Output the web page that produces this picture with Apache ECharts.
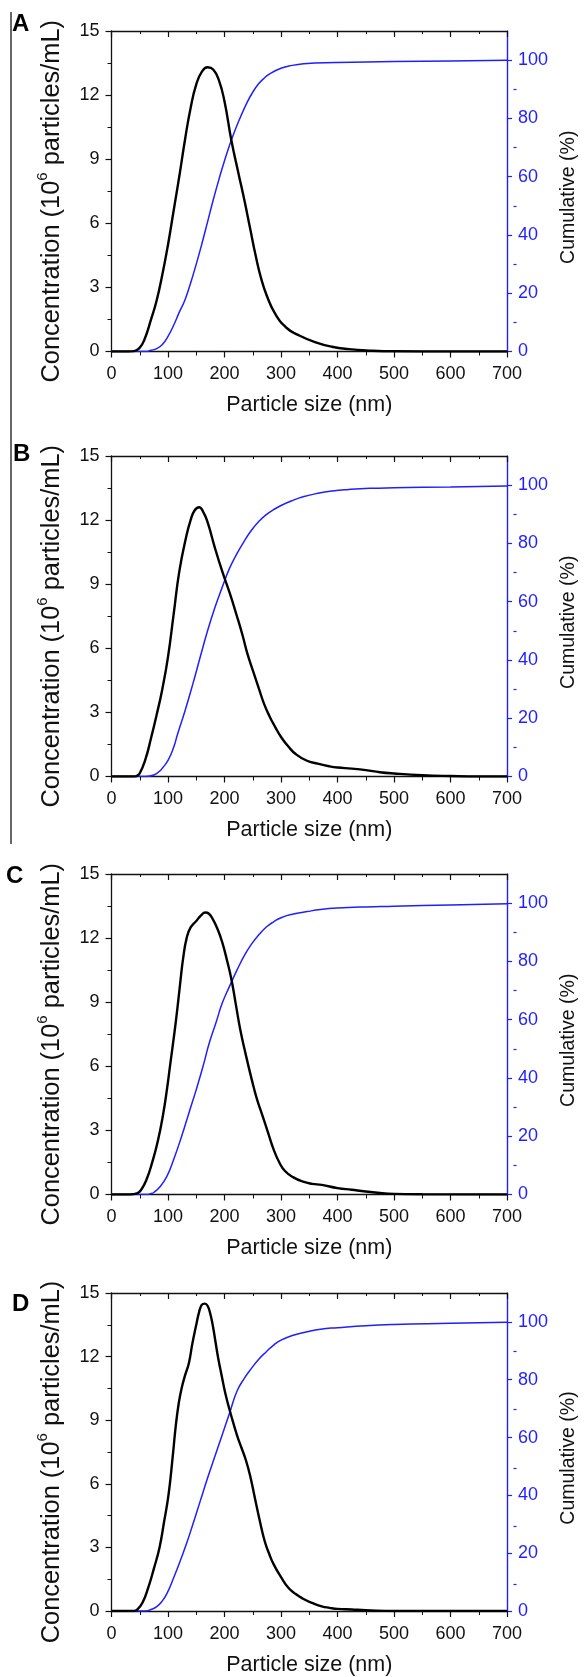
<!DOCTYPE html>
<html>
<head>
<meta charset="utf-8">
<script src="https://cdn.jsdelivr.net/npm/echarts@6/dist/echarts.min.js"></script>
<style>
html,body{margin:0;padding:0;background:#fff;}
#c{width:587px;height:1677px;}
</style>
</head>
<body>
<div id="c"></div>
<script>
// ---- Data (particle size in nm) ----
const panelLetters = ['A', 'B', 'C', 'D'];
const xTicks = [0, 100, 200, 300, 400, 500, 600, 700];
const leftTicks = [0, 3, 6, 9, 12, 15];
const rightTicks = [0, 20, 40, 60, 80, 100];
const rightMinorTicks = [10, 30, 50, 70, 90];

// Panel A
const sizeA = [0, 30, 40, 50, 58, 70, 80, 90, 100, 110, 120, 130, 140, 150, 160, 170, 180, 190, 200, 212, 225, 235, 245, 255, 265, 275, 290, 310, 330, 360, 390, 420, 460, 500, 600, 700];
const concA = [0, 0, 0.02, 0.18, 0.54, 1.5, 2.4, 3.6, 5.0, 6.6, 8.2, 9.9, 11.4, 12.5, 13.1, 13.3, 13.2, 12.7, 11.7, 9.9, 8.3, 7.1, 5.8, 4.5, 3.4, 2.6, 1.75, 1.1, 0.78, 0.44, 0.22, 0.11, 0.04, 0.01, 0, 0];
const cumSizeA = [0, 60, 70, 80, 90, 100, 110, 120, 130, 140, 150, 160, 170, 180, 190, 200, 212, 225, 240, 250, 260, 270, 280, 300, 320, 340, 360, 400, 500, 600, 700];
const cumA = [0, 0, 0.4, 1.0, 2.4, 5.2, 9, 13.5, 17.7, 23.5, 30, 37, 44.5, 52, 59, 65.5, 72.5, 79, 85.5, 89, 91.8, 93.8, 95.3, 97.2, 98.2, 98.8, 99.0, 99.2, 99.5, 99.7, 100];

// Panel B
const sizeB = [0, 40, 45, 50, 60, 70, 80, 90, 100, 110, 120, 132, 140, 147, 155, 162, 170, 183, 196, 209, 222, 232, 241, 251, 261, 270, 280, 290, 300, 313, 326, 345, 365, 385, 400, 425, 450, 475, 500, 550, 600, 650, 700];
const concB = [0, 0, 0.03, 0.15, 0.8, 1.8, 2.9, 4.1, 5.6, 7.6, 9.6, 11.2, 12.0, 12.45, 12.6, 12.4, 11.9, 10.7, 9.6, 8.6, 7.5, 6.6, 5.7, 4.9, 4.1, 3.4, 2.8, 2.3, 1.85, 1.4, 1.05, 0.75, 0.6, 0.48, 0.42, 0.37, 0.3, 0.2, 0.14, 0.06, 0.02, 0, 0];
const cumSizeB = [0, 60, 75, 85, 91, 100, 110, 117, 130, 144, 157, 170, 183, 196, 209, 222, 235, 248, 261, 274, 287, 300, 320, 339, 365, 391, 420, 457, 500, 600, 700];
const cumB = [0, 0, 0.5, 1.8, 3.1, 5.5, 10, 14.6, 22.5, 31.8, 41, 50, 58, 65, 71.5, 76.5, 80.8, 84.6, 87.6, 89.9, 91.6, 93, 94.7, 96, 97.2, 98, 98.5, 98.9, 99.1, 99.4, 99.7];

// Panel C
const sizeC = [0, 33, 45, 52, 62, 72, 82, 91, 98, 104, 111, 117, 122, 127, 133, 140, 150, 158, 166, 172, 179, 188, 196, 204, 212, 220, 228, 238, 248, 257, 267, 277, 287, 297, 307, 322, 339, 355, 372, 400, 425, 450, 475, 500, 550, 700];
const concC = [0, 0, 0.05, 0.2, 0.7, 1.5, 2.5, 3.7, 4.9, 6.1, 7.5, 8.8, 10.0, 11.1, 12.0, 12.5, 12.8, 13.05, 13.2, 13.15, 12.9, 12.4, 11.8, 11.0, 10.1, 8.9, 7.7, 6.5, 5.4, 4.5, 3.7, 2.9, 2.1, 1.5, 1.1, 0.8, 0.6, 0.5, 0.45, 0.3, 0.22, 0.14, 0.07, 0.03, 0.01, 0];
const cumSizeC = [0, 60, 72, 75, 85, 98, 110, 124, 137, 150, 162, 173, 185, 196, 209, 222, 235, 248, 261, 274, 287, 300, 320, 346, 370, 400, 450, 500, 600, 700];
const cumC = [0, 0, 0.4, 0.7, 2.5, 6.2, 12, 19.9, 28, 36, 44, 52, 59, 65.7, 71.5, 77, 82, 86, 89.2, 91.8, 93.6, 95, 96.2, 97.1, 97.8, 98.3, 98.7, 98.9, 99.4, 99.8];

// Panel D
const sizeD = [0, 40, 45, 55, 65, 75, 85, 93, 101, 108, 114, 119, 124, 130, 137, 143, 150, 155, 160, 165, 170, 175, 179, 184, 189, 195, 202, 212, 222, 230, 238, 246, 254, 262, 271, 279, 287, 300, 313, 326, 339, 355, 372, 386, 400, 425, 450, 500, 700];
const concD = [0, 0, 0.05, 0.4, 1.1, 2.0, 3.0, 4.2, 5.5, 7.2, 8.8, 9.8, 10.5, 11.1, 11.7, 12.6, 13.5, 14.1, 14.45, 14.5, 14.4, 14.0, 13.5, 12.7, 11.9, 11.1, 10.2, 9.2, 8.3, 7.7, 7.1, 6.3, 5.3, 4.3, 3.3, 2.7, 2.2, 1.6, 1.1, 0.8, 0.58, 0.38, 0.22, 0.15, 0.1, 0.07, 0.04, 0, 0];
const cumSizeD = [0, 60, 70, 80, 90, 98, 110, 124, 134, 144, 157, 170, 183, 196, 209, 222, 235, 248, 261, 274, 287, 300, 320, 346, 370, 400, 450, 500, 600, 700];
const cumD = [0, 0, 0.5, 1.5, 3.5, 6, 11.5, 18.6, 24, 30, 38, 46, 53.5, 61, 68.5, 76, 80.5, 84, 87.2, 89.7, 92, 93.7, 95.3, 96.6, 97.5, 98, 98.7, 99.1, 99.5, 99.9];

const panels = [
  {size: sizeA, conc: concA, cumSize: cumSizeA, cum: cumA},
  {size: sizeB, conc: concB, cumSize: cumSizeB, cum: cumB},
  {size: sizeC, conc: concC, cumSize: cumSizeC, cum: cumC},
  {size: sizeD, conc: concD, cumSize: cumSizeD, cum: cumD}
];

// ---- Layout / style ----
const FONT = '"Liberation Sans", Arial, Helvetica, sans-serif';
const BLUE = '#1f1fff';
const INK = '#111';
const gridTops = [31, 456, 874, 1293];
const gridH = 320.5;
const letterPos = [[23, 25], [24, 455], [17, 877], [23, 1305]];

const grid = [], xAxis = [], yAxis = [], series = [], graphic = [];
const N = panels.length;

panels.forEach((p, i) => {
  grid.push({left: 111.5, width: 402, top: gridTops[i], height: gridH});
  // bottom x axis  (xAxis index 2i)
  xAxis.push({
    type: 'value', gridIndex: i, position: 'bottom', min: 0, max: 700, interval: 100,
    axisLine: {show: true, onZero: false, lineStyle: {color: INK, width: 1.3}},
    axisTick: {show: true, inside: false, length: 6, lineStyle: {color: INK, width: 1.2}},
    minorTick: {show: true, splitNumber: 2, length: 4, lineStyle: {color: INK, width: 1}},
    splitLine: {show: false},
    axisLabel: {show: true, customValues: xTicks, margin: 14, fontSize: 18, color: INK, fontFamily: FONT},
    name: 'Particle size (nm)', nameLocation: 'middle', nameGap: 43,
    nameTextStyle: {fontSize: 21.5, color: INK, fontFamily: FONT}
  });
  // top x axis (frame with inward ticks) (index 2i+1)
  xAxis.push({
    type: 'value', gridIndex: i, position: 'top', min: 0, max: 700, interval: 100,
    axisLine: {show: true, onZero: false, lineStyle: {color: INK, width: 1.3}},
    axisTick: {show: true, inside: true, length: 6, lineStyle: {color: INK, width: 1.2}},
    minorTick: {show: true, splitNumber: 2, length: 3, lineStyle: {color: INK, width: 1}},
    splitLine: {show: false}, axisLabel: {show: false}
  });
  // left y axis (index 2i)
  yAxis.push({
    type: 'value', gridIndex: i, position: 'left', min: 0, max: 15, interval: 3,
    axisLine: {show: true, onZero: false, lineStyle: {color: INK, width: 1.3}},
    axisTick: {show: true, inside: false, length: 6, lineStyle: {color: INK, width: 1.2}},
    minorTick: {show: true, splitNumber: 2, length: 4, lineStyle: {color: INK, width: 1}},
    splitLine: {show: false},
    axisLabel: {show: true, customValues: leftTicks, margin: 12, fontSize: 18, color: INK, fontFamily: FONT},
    name: '{a|Concentration (10}{s|6}{a| particles/mL)}',
    nameLocation: 'middle', nameRotate: 90, nameGap: 47,
    nameTextStyle: {
      color: INK, fontFamily: FONT, padding: [0, 20, 0, 0],
      rich: {
        a: {fontSize: 25.4, color: INK, fontFamily: FONT, lineHeight: 29, verticalAlign: 'bottom'},
        s: {fontSize: 15, color: INK, fontFamily: FONT, lineHeight: 29, verticalAlign: 'top'}
      }
    }
  });
  // right y axis (cumulative %) (index 2i+1)
  yAxis.push({
    type: 'value', gridIndex: i, position: 'right', min: 0, max: 110, interval: 20,
    axisLine: {show: true, onZero: false, lineStyle: {color: BLUE, width: 1.4}},
    axisTick: {show: true, inside: false, length: 5, customValues: rightTicks, lineStyle: {color: BLUE, width: 1.2}},
    splitLine: {show: false},
    axisLabel: {show: true, customValues: rightTicks, margin: 11, fontSize: 18, color: BLUE, fontFamily: FONT},
    name: 'Cumulative (%)', nameLocation: 'middle', nameRotate: 90, nameGap: 48,
    nameTextStyle: {fontSize: 19.5, color: INK, fontFamily: FONT, padding: [0, 12, 0, 0]}
  });

  series.push({
    type: 'line', xAxisIndex: 2 * i, yAxisIndex: 2 * i,
    data: p.size.map((s, k) => [s, p.conc[k]]),
    smooth: 0.5, showSymbol: false, symbol: 'none',
    lineStyle: {color: '#000', width: 2.4}, z: 3, animation: false
  });
  series.push({
    type: 'line', xAxisIndex: 2 * i, yAxisIndex: 2 * i + 1,
    data: p.cumSize.map((s, k) => [s, p.cum[k]]),
    smooth: 0.5, showSymbol: false, symbol: 'none',
    lineStyle: {color: BLUE, width: 1.5}, z: 2, animation: false
  });

  graphic.push({
    type: 'text', left: letterPos[i][0] - 11, top: letterPos[i][1] - 13,
    style: {text: panelLetters[i], fontSize: 24, fontWeight: 'bold', fill: '#000', fontFamily: FONT}
  });
});

// overlay grids carrying only the short (minor) ticks of the right axis
panels.forEach((p, i) => {
  const g = N + i;
  grid.push({left: 111.5, width: 402, top: gridTops[i], height: gridH});
  xAxis.push({type: 'value', gridIndex: g, min: 0, max: 700, show: false});
  yAxis.push({
    type: 'value', gridIndex: g, position: 'right', min: 0, max: 110, interval: 10,
    axisLine: {show: false, onZero: false},
    axisTick: {show: true, inside: false, length: 3, customValues: rightMinorTicks, lineStyle: {color: BLUE, width: 1.2}},
    splitLine: {show: false}, axisLabel: {show: false}
  });
});

graphic.push({
  type: 'line', shape: {x1: 11, y1: 12, x2: 11, y2: 844},
  style: {stroke: '#000', lineWidth: 1.2}
});

const chart = echarts.init(document.getElementById('c'), null, {renderer: 'canvas'});
chart.setOption({
  animation: false,
  backgroundColor: '#fff',
  textStyle: {fontFamily: FONT},
  grid, xAxis, yAxis, series, graphic
});
</script>
</body>
</html>
